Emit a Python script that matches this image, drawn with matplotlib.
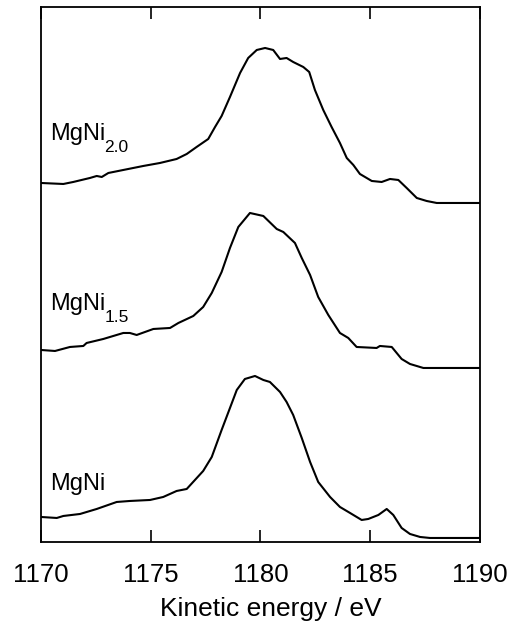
import matplotlib.pyplot as plt

plt.rcParams['font.family'] = 'Liberation Sans'

# spectra (intensity above each baseline, arb. units)
energy_20 = [1170.0, 1171.02, 1171.47, 1172.23, 1172.54, 1172.77, 1173.07, 1173.75,
             1174.66, 1175.42, 1176.18, 1176.64, 1177.09, 1177.62, 1177.93, 1178.23,
             1178.61, 1179.07, 1179.44, 1179.83, 1180.21, 1180.58, 1180.89, 1181.19,
             1181.49, 1181.95, 1182.22, 1182.48, 1182.86, 1183.24, 1183.62, 1183.93,
             1184.23, 1184.53, 1185.07, 1185.52, 1185.90, 1186.28, 1186.66, 1187.12,
             1187.57, 1188.03, 1190.0]
counts_20 = [20, 19, 21, 25, 27, 26, 30, 33, 37, 40, 44, 49, 56, 64, 76, 87,
             106, 130, 145, 153, 155, 153, 144, 145, 141, 136, 131, 113, 93, 76,
             60, 45, 38, 29, 22, 21, 24, 23, 15, 5, 2, 0, 0]

energy_15 = [1170.0, 1170.64, 1171.32, 1171.93, 1172.08, 1172.84, 1173.75, 1174.05,
             1174.36, 1175.12, 1175.88, 1176.26, 1176.94, 1177.39, 1177.78, 1178.23,
             1178.61, 1178.99, 1179.52, 1180.13, 1180.74, 1181.04, 1181.57, 1181.88,
             1182.26, 1182.63, 1183.09, 1183.62, 1184.0, 1184.38, 1185.29, 1185.44,
             1185.98, 1186.43, 1186.81, 1187.42, 1190.0]
counts_15 = [18, 17, 21, 22, 25, 29, 35, 35, 33, 39, 40, 45, 52, 61, 75, 96,
             120, 141, 155, 152, 139, 136, 125, 110, 93, 71, 53, 35, 30, 21,
             20, 22, 21, 9, 4, 0, 0]

energy_10 = [1170.0, 1170.72, 1171.02, 1171.78, 1172.54, 1173.45, 1174.05, 1174.97,
             1175.57, 1176.18, 1176.64, 1177.39, 1177.78, 1178.23, 1178.61, 1178.92,
             1179.29, 1179.75, 1180.13, 1180.43, 1180.89, 1181.19, 1181.49, 1181.88,
             1182.26, 1182.63, 1183.17, 1183.62, 1184.08, 1184.61, 1184.91, 1185.37,
             1185.75, 1186.05, 1186.43, 1186.81, 1187.27, 1187.72, 1190.0]
counts_10 = [21, 20, 22, 24, 29, 36, 37, 38, 41, 47, 49, 67, 81, 108, 130, 148,
             159, 162, 158, 156, 146, 136, 123, 100, 76, 56, 41, 31, 25, 18,
             19, 23, 29, 23, 10, 4, 1, 0, 0]

labels = ['MgNi', 'MgNi', 'MgNi']
subscripts = ['2.0', '1.5', '']
offsets = [339, 174, 4]
label_y = [402, 232, 52]
xticks = [1170, 1175, 1180, 1185, 1190]

fig = plt.figure(figsize=(5.12, 6.35), dpi=100)
ax = fig.add_axes([0.080, 0.1465, 0.8575, 0.8425])

spectra = [(energy_20, counts_20), (energy_15, counts_15), (energy_10, counts_10)]
texts = []
for (e, c), off, lab, ly in zip(spectra, offsets, labels, label_y):
    ax.plot(e, [v + off for v in c], color='black', linewidth=1.5)
    texts.append(ax.text(1170.41, ly, lab, fontsize=17, va='baseline', ha='left'))

ax.set_xlim(1170, 1190)
ax.set_ylim(0, 535)
ax.set_xticks(xticks)
ax.set_yticks([])
ax.tick_params(axis='x', direction='in', length=8.5, width=1.2,
               top=True, labelsize=18.5, pad=15)
for s in ax.spines.values():
    s.set_linewidth(1.3)

ax.set_xlabel('Kinetic energy / eV', fontsize=19)
ax.xaxis.set_label_coords(0.524, -0.103)

# subscripts sit lower than mathtext would put them
fig.canvas.draw()
renderer = fig.canvas.get_renderer()
for t, sub, ly in zip(texts, subscripts, label_y):
    if not sub:
        continue
    x_end = ax.transData.inverted().transform(
        (t.get_window_extent(renderer).x1, 0))[0]
    ax.annotate(sub, xy=(x_end, ly), xytext=(-0.5, -8.3),
                textcoords='offset points', fontsize=12.5, va='baseline')

fig.savefig('out.png', dpi=100)
